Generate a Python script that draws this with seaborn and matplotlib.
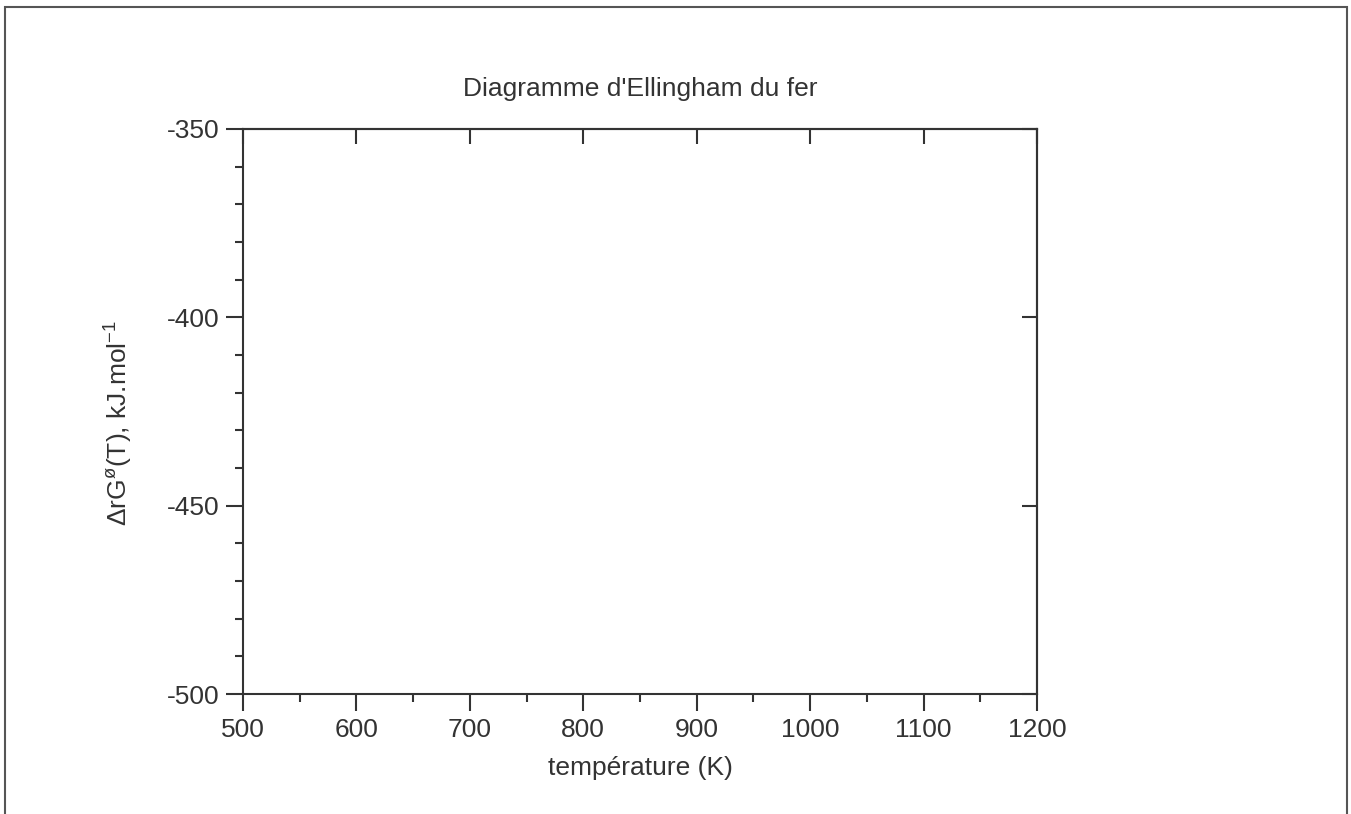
import pandas as pd
import matplotlib
matplotlib.use("Agg")
import matplotlib.pyplot as plt
from matplotlib.patches import Rectangle
from matplotlib.ticker import MultipleLocator
import seaborn as sns

# axis ranges and ticks (the chart has no plotted series)
x_limits = [500, 1200]
y_limits = [-500, -350]
x_ticks = [500, 600, 700, 800, 900, 1000, 1100, 1200]
y_ticks = [-500, -450, -400, -350]
x_minor_step = 50
y_minor_step = 10

title = "Diagramme d'Ellingham du fer"
x_label = "température (K)"
y_label = r"ΔrG$^{\o}$(T), kJ.mol$^{-1}$"

sns.set_theme(style="white")
plt.rcParams['font.family'] = ['Liberation Sans', 'DejaVu Sans']
plt.rcParams['axes.unicode_minus'] = False
plt.rcParams['mathtext.fontset'] = 'custom'
plt.rcParams['mathtext.rm'] = 'Liberation Sans'
plt.rcParams['mathtext.it'] = 'Liberation Sans'

ink = "#333333"
fs = 19
W, H = 1351, 814
fig = plt.figure(figsize=(W / 100, H / 100), dpi=100)
ax = fig.add_axes([243 / W, 1 - 694 / H, (1037 - 243) / W, (694 - 129) / H])

# empty series, just to set up the axes through seaborn
df = pd.DataFrame({"T": pd.Series([], dtype=float), "G": pd.Series([], dtype=float)})
sns.lineplot(data=df, x="T", y="G", ax=ax)

ax.set_xlim(x_limits)
ax.set_ylim(y_limits)
ax.set_xticks(x_ticks)
ax.set_yticks(y_ticks)
ax.xaxis.set_minor_locator(MultipleLocator(x_minor_step))
ax.yaxis.set_minor_locator(MultipleLocator(y_minor_step))

for s in ax.spines.values():
    s.set_visible(True)
    s.set_color(ink)
    s.set_linewidth(1.5)

ax.tick_params(which="major", direction="out", length=12, width=1.5, color=ink,
               labelsize=fs, labelcolor=ink, pad=5,
               bottom=True, left=True, top=False, right=False)
ax.tick_params(which="minor", direction="out", length=6, width=1.5, color=ink,
               bottom=True, left=True, top=False, right=False)

# inward major ticks on top and right
top = ax.secondary_xaxis("top")
top.set_xticks(x_ticks)
top.tick_params(direction="in", length=11, width=1.5, color=ink, labeltop=False)
top.spines["top"].set_color(ink)
top.spines["top"].set_linewidth(1.5)
right = ax.secondary_yaxis("right")
right.set_yticks(y_ticks)
right.tick_params(direction="in", length=11, width=1.5, color=ink, labelright=False)
right.spines["right"].set_color(ink)
right.spines["right"].set_linewidth(1.5)

ax.set_title(title, fontsize=fs, color=ink, pad=24)
ax.set_xlabel(x_label, fontsize=fs, color=ink, labelpad=10)
ax.set_ylabel(y_label, fontsize=fs, color=ink)
ax.yaxis.set_label_coords(-0.136, 0.48)

# outer frame of the page (bottom edge runs off the picture)
fig.patches.append(Rectangle((5 / W, -0.02), (1347 - 5) / W, 1.02 - 7 / H,
                             transform=fig.transFigure, fill=False,
                             edgecolor="#555555", linewidth=1.5))

fig.savefig("out.png", dpi=100)
